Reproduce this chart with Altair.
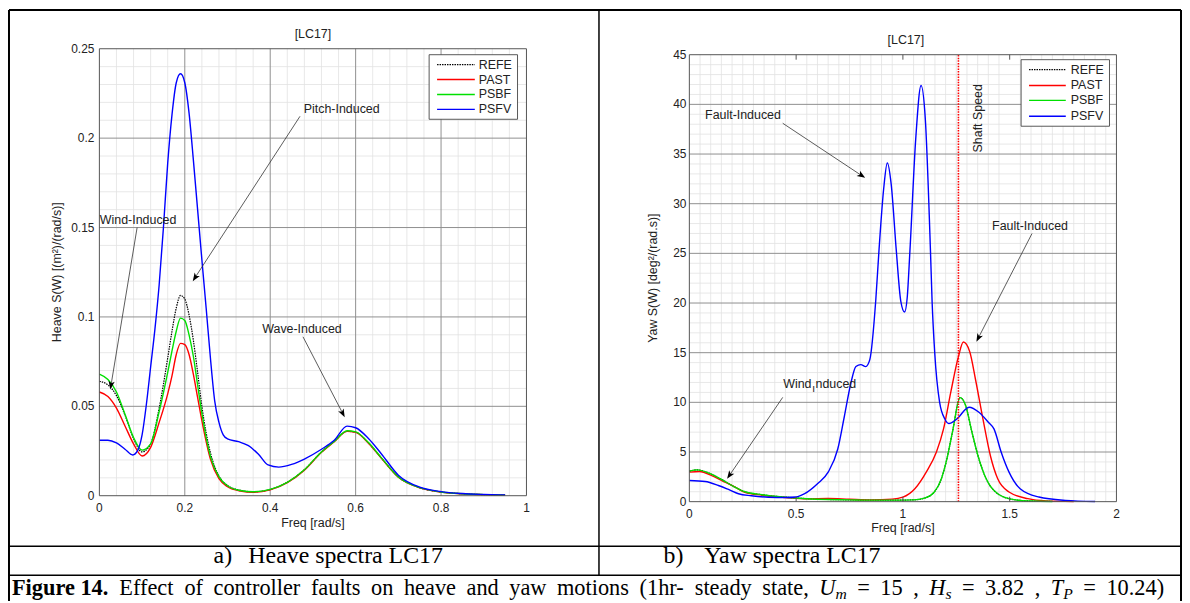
import math
import altair as alt
import pandas as pd

# ---------------- data ----------------
series_names = ["REFE", "PAST", "PSBF", "PSFV"]
series_colors = ["#000000", "#ff0000", "#00e000", "#0000ff"]

# (a) Heave spectra  [m^2/(rad/s)]
heave_f = [0.00, 0.02, 0.04, 0.06, 0.08, 0.10, 0.12, 0.14, 0.16, 0.17, 0.18, 0.19, 0.20, 0.21, 0.22,
           0.23, 0.24, 0.26, 0.28, 0.30, 0.33, 0.36, 0.40, 0.44, 0.48, 0.52, 0.55, 0.58, 0.60, 0.63,
           0.66, 0.70, 0.75, 0.80, 0.85, 0.90, 0.95]
heave_refe = [0.064, 0.062, 0.056, 0.045, 0.032, 0.0245, 0.029, 0.049, 0.077, 0.092, 0.105, 0.112, 0.110,
              0.101, 0.087, 0.069, 0.050, 0.024, 0.011, 0.0058, 0.003, 0.0022, 0.0035, 0.0075, 0.0145,
              0.0245, 0.0305, 0.0360, 0.0355, 0.0295, 0.0212, 0.0105, 0.0045, 0.0021, 0.0011, 0.0006, 0.0003]
heave_past = [0.058, 0.0555, 0.049, 0.039, 0.029, 0.0222, 0.027, 0.041, 0.057, 0.067, 0.079, 0.0852, 0.0845,
              0.079, 0.068, 0.055, 0.042, 0.0205, 0.0095, 0.005, 0.0026, 0.0019, 0.0033, 0.0073, 0.0143,
              0.0243, 0.0302, 0.0360, 0.0354, 0.0294, 0.021, 0.0103, 0.0044, 0.002, 0.001, 0.0006, 0.0003]
heave_psbf = [0.068, 0.065, 0.058, 0.0455, 0.0325, 0.0255, 0.029, 0.047, 0.069, 0.081, 0.092, 0.0993, 0.098,
              0.090, 0.078, 0.062, 0.046, 0.022, 0.0105, 0.0056, 0.0029, 0.0022, 0.0035, 0.0075, 0.0145,
              0.0245, 0.0303, 0.0363, 0.0357, 0.0297, 0.0213, 0.0105, 0.0045, 0.0021, 0.0011, 0.0006, 0.0003]
heave_psfv_f = [0.00, 0.02, 0.04, 0.06, 0.078, 0.09, 0.10, 0.11, 0.12, 0.13, 0.14, 0.15, 0.16, 0.17, 0.18,
                0.19, 0.20, 0.21, 0.22, 0.23, 0.24, 0.25, 0.26, 0.27, 0.28, 0.29, 0.30, 0.326, 0.349, 0.372,
                0.395, 0.42, 0.45, 0.48, 0.52, 0.55, 0.58, 0.60, 0.63, 0.66, 0.70, 0.75, 0.80, 0.85, 0.90, 0.95]
heave_psfv = [0.031, 0.031, 0.0295, 0.026, 0.0228, 0.0255, 0.034, 0.051, 0.072, 0.093, 0.118, 0.150, 0.186,
              0.213, 0.231, 0.236, 0.231, 0.214, 0.188, 0.160, 0.132, 0.105, 0.077, 0.053, 0.041, 0.034,
              0.0318, 0.0302, 0.028, 0.0233, 0.0172, 0.016, 0.0175, 0.0205, 0.026, 0.031, 0.0389, 0.038,
              0.032, 0.0235, 0.0115, 0.0048, 0.0023, 0.0012, 0.0007, 0.0004]

# (b) Yaw spectra  [deg^2/(rad.s)]
yaw_base_f = [0, 0.036, 0.1, 0.15, 0.21, 0.26, 0.34, 0.45, 0.55, 0.65, 0.75, 0.85, 0.95, 1.05, 1.1,
              1.147, 1.18, 1.206, 1.232, 1.268, 1.295, 1.32, 1.356, 1.39, 1.444, 1.52, 1.6, 1.7]
yaw_refe = [3.07, 3.2, 2.8, 2.25, 1.5, 1.0, 0.7, 0.45, 0.3, 0.22, 0.18, 0.15, 0.15, 0.18, 0.35,
            0.97, 2.3, 4.3, 7.0, 10.47, 9.6, 7.3, 4.3, 2.3, 0.8, 0.2, 0.06, 0.02]
yaw_psbf = [3.07, 3.2, 2.8, 2.25, 1.5, 1.0, 0.7, 0.45, 0.3, 0.22, 0.18, 0.15, 0.15, 0.18, 0.35,
            0.97, 2.3, 4.3, 7.0, 10.47, 9.6, 7.3, 4.3, 2.3, 0.8, 0.2, 0.06, 0.02]
yaw_past_f = [0, 0.047, 0.105, 0.152, 0.214, 0.26, 0.34, 0.45, 0.55, 0.65, 0.75, 0.85, 0.95, 1.0, 1.056,
              1.11, 1.157, 1.19, 1.224, 1.26, 1.283, 1.313, 1.34, 1.375, 1.41, 1.444, 1.497, 1.585, 1.67, 1.8]
yaw_past = [2.97, 3.03, 2.63, 2.13, 1.47, 0.95, 0.65, 0.42, 0.28, 0.33, 0.25, 0.18, 0.25, 0.45, 1.3,
            3.0, 5.0, 7.3, 11.0, 14.6, 16.07, 15.1, 12.3, 8.3, 4.6, 2.3, 0.97, 0.3, 0.08, 0.02]
yaw_psfv_f = [0, 0.074, 0.136, 0.183, 0.23, 0.29, 0.37, 0.45, 0.5, 0.54, 0.6, 0.65, 0.695, 0.726, 0.757,
              0.78, 0.803, 0.826, 0.845, 0.873, 0.888, 0.91, 0.927, 0.945, 0.969, 0.99, 1.008, 1.02, 1.033,
              1.06, 1.085, 1.105, 1.129, 1.137, 1.149, 1.172, 1.197, 1.215, 1.251, 1.31, 1.356, 1.40, 1.427,
              1.46, 1.497, 1.549, 1.637, 1.761, 1.9]
yaw_psfv = [2.13, 2.03, 1.63, 1.23, 0.8, 0.6, 0.45, 0.42, 0.47, 0.8, 1.8, 2.97, 5.3, 8.6, 12.0,
            13.6, 13.8, 13.6, 14.3, 20.3, 25.3, 31.5, 34.1, 32.0, 25.3, 20.2, 19.1, 20.5, 25.3,
            36.5, 41.9, 38.5, 25.3, 20.0, 15.0, 10.0, 8.3, 7.87, 8.3, 9.5, 9.0, 8.0, 7.3,
            5.0, 2.97, 1.3, 0.47, 0.13, 0.02]
shaft_speed = [1.26]

# axis ticks
heave_x_ticks = [0, 0.2, 0.4, 0.6, 0.8, 1.0]
heave_x_labels = ["0", "0.2", "0.4", "0.6", "0.8", "1"]
heave_y_ticks = [0, 0.05, 0.1, 0.15, 0.2, 0.25]
heave_y_labels = ["0", "0.05", "0.1", "0.15", "0.2", "0.25"]
heave_x_minor = [round(0.04 * i, 3) for i in range(26) if i % 5]
heave_y_minor = [round(0.01 * i, 3) for i in range(26) if i % 5]
yaw_x_ticks = [0, 0.5, 1.0, 1.5, 2.0]
yaw_x_labels = ["0", "0.5", "1", "1.5", "2"]
yaw_y_ticks = [0, 5, 10, 15, 20, 25, 30, 35, 40, 45]
yaw_y_labels = ["0", "5", "10", "15", "20", "25", "30", "35", "40", "45"]
yaw_x_minor = [round(0.05 * i, 3) for i in range(41) if i % 10]
yaw_y_minor = [i for i in range(46) if i % 5]

# ---------------- styling ----------------
W, H = 1182, 595
SANS = "Liberation Sans"
SERIF = "Liberation Serif"
MAJOR = "#8f8f8f"
MINOR = "#e2e2e2"
TXT = "#222222"


def one():
    return alt.Data(values=[{"k": 0}])


def txt(s, x, y, size=12.5, font=SANS, align="center", baseline="middle", angle=0,
        weight="normal", style="normal", color=TXT):
    kw = dict(text=s, font=font, fontSize=size, align=align, baseline=baseline,
              fontWeight=weight, fontStyle=style, color=color)
    if angle:
        kw["angle"] = angle
    return alt.Chart(one()).mark_text(**kw).encode(x=alt.value(x), y=alt.value(y))


def seg(x0, y0, x1, y1, color="black", w=1.0, dash=None):
    kw = dict(color=color, strokeWidth=w)
    if dash:
        kw["strokeDash"] = dash
    return alt.Chart(one()).mark_rule(**kw).encode(
        x=alt.value(x0), y=alt.value(y0), x2=alt.value(x1), y2=alt.value(y1))


HEAD = "M0,-1L0.6,0.6L0,0.2L-0.6,0.6Z"


def arrow(x0, y0, x1, y1, r=5.2):
    dx, dy = x1 - x0, y1 - y0
    L = math.hypot(dx, dy)
    ux, uy = dx / L, dy / L
    ang = math.degrees(math.atan2(ux, -uy)) % 360
    cx, cy = x1 - ux * r, y1 - uy * r
    line = seg(x0, y0, cx, cy, color="#333333", w=0.8)
    head = alt.Chart(one()).mark_point(shape=HEAD, filled=True, color="black", opacity=1,
                                       size=(2 * r) ** 2, angle=ang, strokeWidth=0).encode(
        x=alt.value(cx), y=alt.value(cy))
    return [line, head]


def legend(x0, y0, x1, y1, ys, lx0, lx1, tx):
    items = [alt.Chart(one()).mark_rect(fill="white", stroke="#444444", strokeWidth=0.9).encode(
        x=alt.value(x0), y=alt.value(y0), x2=alt.value(x1), y2=alt.value(y1))]
    for name, col, yy in zip(series_names, series_colors, ys):
        dash = [1.5, 1] if name == "REFE" else None
        items.append(seg(lx0, yy, lx1, yy, color=col, w=1.4, dash=dash))
        items.append(txt(name, tx, yy, size=12.5, align="left"))
    return items


def panel(prx, pry, xdom, ydom, xt, xl, yt, yl, xminor, yminor, major_x_grid, curves,
          xlab_y, ylab_x, extra_top_ticks):
    sx = alt.Scale(domain=xdom, range=prx, nice=False, zero=False)
    sy = alt.Scale(domain=ydom, range=pry, nice=False, zero=False)
    X = lambda f: alt.X(f, scale=sx, axis=None)
    Y = lambda f: alt.Y(f, scale=sy, axis=None)
    layers = []
    vmin = pd.DataFrame({"v": xminor, "a": ydom[0], "b": ydom[1]})
    layers.append(alt.Chart(vmin).mark_rule(color=MINOR, strokeWidth=0.8).encode(
        x=X("v:Q"), y=Y("a:Q"), y2="b:Q"))
    hmin = pd.DataFrame({"v": yminor, "a": xdom[0], "b": xdom[1]})
    layers.append(alt.Chart(hmin).mark_rule(color=MINOR, strokeWidth=0.8).encode(
        y=Y("v:Q"), x=X("a:Q"), x2="b:Q"))
    if major_x_grid:
        vmaj = pd.DataFrame({"v": xt[1:-1], "a": ydom[0], "b": ydom[1]})
        layers.append(alt.Chart(vmaj).mark_rule(color=MAJOR, strokeWidth=1).encode(
            x=X("v:Q"), y=Y("a:Q"), y2="b:Q"))
    hmaj = pd.DataFrame({"v": yt[1:-1], "a": xdom[0], "b": xdom[1]})
    layers.append(alt.Chart(hmaj).mark_rule(color=MAJOR, strokeWidth=1).encode(
        y=Y("v:Q"), x=X("a:Q"), x2="b:Q"))
    for fs, vs, col, dash, w in curves:
        df = pd.DataFrame({"f": fs, "v": vs})
        kw = dict(color=col, strokeWidth=w, interpolate="monotone")
        if dash:
            kw["strokeDash"] = dash
        layers.append(alt.Chart(df).mark_line(**kw).encode(x=X("f:Q"), y=Y("v:Q"), order="f:Q"))
    frame = pd.DataFrame({"x0": [xdom[0]], "x1": [xdom[1]], "y0": [ydom[0]], "y1": [ydom[1]]})
    layers.append(alt.Chart(frame).mark_rect(fillOpacity=0, stroke="#555555", strokeWidth=1).encode(
        x=X("x0:Q"), x2="x1:Q", y=Y("y0:Q"), y2="y1:Q"))
    if extra_top_ticks:
        tk = pd.DataFrame({"v": xt[1:-1]})
        layers.append(alt.Chart(tk).mark_rule(color="#555555", strokeWidth=1).encode(
            x=X("v:Q"), y=alt.value(pry[1]), y2=alt.value(pry[1] + 5)))
        layers.append(alt.Chart(tk).mark_rule(color="#555555", strokeWidth=1).encode(
            x=X("v:Q"), y=alt.value(pry[0]), y2=alt.value(pry[0] - 5)))
    xl_df = pd.DataFrame({"v": xt, "lab": xl})
    layers.append(alt.Chart(xl_df).mark_text(font=SANS, fontSize=12, color=TXT, baseline="middle").encode(
        x=X("v:Q"), y=alt.value(xlab_y), text="lab:N"))
    yl_df = pd.DataFrame({"v": yt, "lab": yl})
    layers.append(alt.Chart(yl_df).mark_text(font=SANS, fontSize=12, color=TXT, align="right",
                                             baseline="middle").encode(
        y=Y("v:Q"), x=alt.value(ylab_x), text="lab:N"))
    return layers, sx, sy


# ---------------- left panel: heave ----------------
heave_curves = [
    (heave_f, heave_refe, series_colors[0], [1.5, 1], 1.2),
    (heave_f, heave_past, series_colors[1], None, 1.4),
    (heave_f, heave_psbf, series_colors[2], None, 1.4),
    (heave_psfv_f, heave_psfv, series_colors[3], None, 1.4),
]
L_layers, _, _ = panel([92, 522], [489, 39], [0, 1], [0, 0.25], heave_x_ticks, heave_x_labels,
                       heave_y_ticks, heave_y_labels, heave_x_minor, heave_y_minor, True,
                       heave_curves, 501, 87, False)
L_layers += [
    txt("[LC17]", 307, 24, size=12.5),
    txt("Freq [rad/s]", 307, 517, size=12.5),
    txt("Heave S(W) [(m²)/(rad/s)]", 49, 264, size=12.5, angle=270),
    txt("Pitch-Induced", 336, 100),
    txt("Wind-Induced", 131, 211),
    txt("Wave-Induced", 296, 321),
]
L_layers += arrow(294, 107, 186, 273)
L_layers += arrow(130, 219, 103, 382)
L_layers += arrow(297, 329, 339, 410)
L_layers += legend(424, 45, 513, 110, [55, 70, 85, 100], 432, 470, 474)

# ---------------- right panel: yaw ----------------
yaw_curves = [
    (yaw_base_f, yaw_refe, series_colors[0], [1.5, 1], 1.2),
    (yaw_past_f, yaw_past, series_colors[1], None, 1.4),
    (yaw_base_f, yaw_psbf, series_colors[2], None, 1.4),
    (yaw_psfv_f, yaw_psfv, series_colors[3], None, 1.4),
]
R_layers, rsx, rsy = panel([686, 1116], [495, 45], [0, 2], [0, 45], yaw_x_ticks, yaw_x_labels,
                           yaw_y_ticks, yaw_y_labels, yaw_x_minor, yaw_y_minor, False,
                           yaw_curves, 507, 683, True)
shaft_df = pd.DataFrame({"f": shaft_speed, "a": [0], "b": [45]})
R_layers.insert(len(R_layers) - 5, alt.Chart(shaft_df).mark_rule(color="#ff0000", strokeWidth=1.6,
                                                                 strokeDash=[1.5, 1.2]).encode(
    x=alt.X("f:Q", scale=rsx, axis=None), y=alt.Y("a:Q", scale=rsy, axis=None), y2="b:Q"))
R_layers += [
    txt("[LC17]", 904, 30, size=12.5),
    txt("Freq [rad/s]", 901, 522, size=12.5),
    txt("Yaw S(W) [deg²/(rad.s)]", 649, 270, size=12.5, angle=270),
    txt("Shaft Speed", 977, 109, size=12.5, angle=270),
    txt("Fault-Induced", 740, 106),
    txt("Fault-Induced", 1029, 217),
    txt("Wind", 809, 377, align="right"),
    txt("I", 811, 382, size=10, align="center"),
    txt("nduced", 813, 377, align="left"),
]
R_layers += arrow(780, 114, 863, 169)
R_layers += arrow(1031, 225, 975, 334)
R_layers += arrow(780, 390, 724, 472)
R_layers += legend(1020, 50, 1109, 117, [60, 76, 91, 107], 1028, 1065, 1070)

# ---------------- table borders and captions ----------------
TR = {' ': 250, '(': 333, ')': 333, ',': 250, '-': 333, '.': 250, '=': 564,
      'E': 611, 'F': 556, 'H': 722, 'I': 333, 'L': 611, 'C': 667, 'P': 556, 'T': 611, 'U': 722, 'Y': 722,
      'a': 444, 'b': 500, 'c': 444, 'd': 500, 'e': 444, 'f': 333, 'g': 500, 'h': 500, 'i': 278,
      'k': 500, 'l': 278, 'm': 778, 'n': 500, 'o': 500, 'p': 500, 'r': 333, 's': 389, 't': 278,
      'u': 500, 'v': 500, 'w': 722, 'y': 500}
TB = {'F': 611, 'i': 278, 'g': 500, 'u': 556, 'r': 444, 'e': 444, ' ': 250, '.': 250}
TI = {'U': 722, 'm': 722, 'H': 722, 's': 389, 'T': 556, 'P': 611}


def tw(s, table, size):
    return sum(table.get(c, 500) for c in s) * size / 1000.0


CAP1 = 24
CAP = 22.5
caption_pieces = [("Figure 14.", "B", 1.0, 0)]
for wd in "Effect of controller faults on heave and yaw motions (1hr- steady state,".split(" "):
    caption_pieces += [(" ", "S", 1.0, 0), (wd, "R", 1.0, 0)]
caption_pieces += [(" ", "S", 1, 0), ("U", "I", 1, 0), ("m", "I", 0.7, 0.28), (" ", "S", 1, 0), ("=", "R", 1, 0),
                   (" ", "S", 1, 0), ("15", "R", 1, 0), (" ", "S", 1, 0), (",", "R", 1, 0), (" ", "S", 1, 0),
                   ("H", "I", 1, 0), ("s", "I", 0.7, 0.28), (" ", "S", 1, 0), ("=", "R", 1, 0), (" ", "S", 1, 0),
                   ("3.82", "R", 1, 0), (" ", "S", 1, 0), (",", "R", 1, 0), (" ", "S", 1, 0),
                   ("T", "I", 1, 0), ("P", "I", 0.7, 0.28), (" ", "S", 1, 0), ("=", "R", 1, 0), (" ", "S", 1, 0),
                   ("10.24)", "R", 1, 0)]
tables = {"B": TB, "R": TR, "I": TI, "S": TR}
nat = sum(tw(p[0], tables[p[1]], CAP * p[2]) for p in caption_pieces)
n_sp = sum(1 for p in caption_pieces if p[1] == "S")
cx0, cx1 = 4, 1164
extra = max(0.0, (cx1 - cx0 - nat) / n_sp)
T_layers = [
    seg(1, 0, 1181, 0, w=2),
    seg(1, 0, 1, 595, w=2),
    seg(1181, 0, 1181, 595, w=2),
    seg(595, 0, 595, 569, w=1.5),
    seg(1, 540, 1181, 540, w=1.5),
    seg(1, 569, 1181, 569, w=1.5),
    txt("a)", 207, 550, size=CAP1, font=SERIF, align="left", color="black"),
    txt("Heave spectra LC17", 242, 550, size=CAP1, font=SERIF, align="left", color="black"),
    txt("b)", 660, 550, size=CAP1, font=SERIF, align="left", color="black"),
    txt("Yaw spectra LC17", 701, 550, size=CAP1, font=SERIF, align="left", color="black"),
]
x = cx0
base_y = 582
for s, kind, fac, dy in caption_pieces:
    size = CAP * fac
    wdt = tw(s, tables[kind], size)
    if kind == "S":
        x += wdt + extra
        continue
    T_layers.append(txt(s, x, base_y + dy * CAP, size=size, font=SERIF, align="left",
                        weight="bold" if kind == "B" else "normal",
                        style="italic" if kind == "I" else "normal", color="black"))
    x += wdt

left = alt.layer(*L_layers)
right = alt.layer(*R_layers)
table = alt.layer(*T_layers)

chart = alt.layer(table, left, right).resolve_scale(x="independent", y="independent").properties(
    width=W, height=H, autosize=alt.AutoSizeParams(type="none"), padding=0,
    background="white").configure_view(stroke=None)

chart.save("out.html", embed_options={"renderer": "svg", "actions": False})
